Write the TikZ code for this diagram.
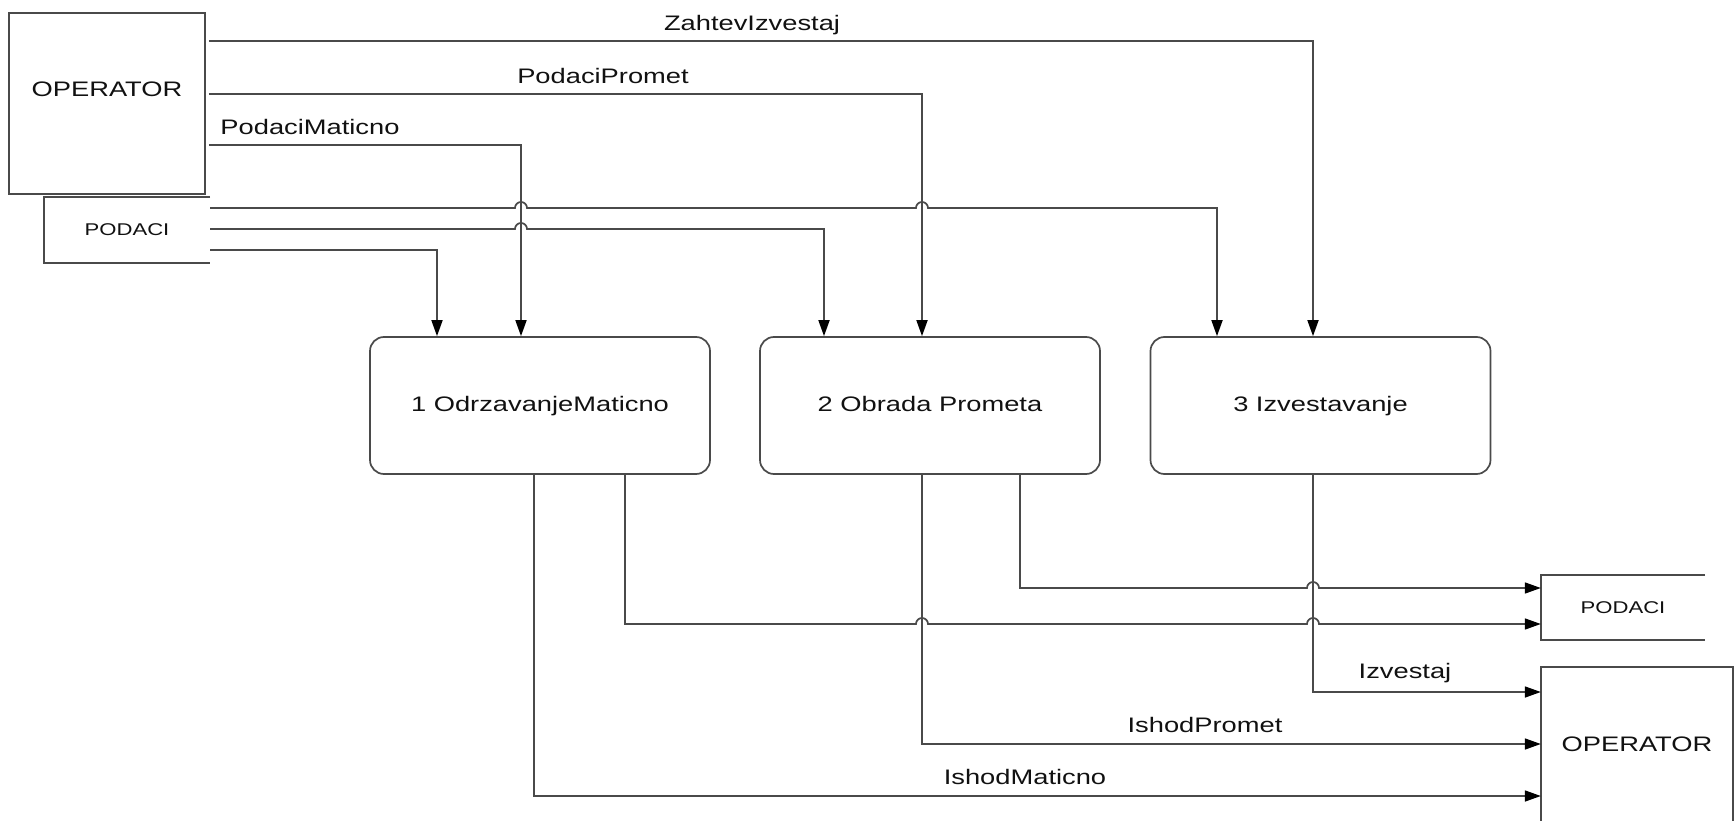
\documentclass[tikz,border=0pt]{standalone}
\usepackage{fontspec}
\setmainfont{Liberation Sans}[FakeStretch=1.3]
\usetikzlibrary{arrows.meta,calc}
\definecolor{lncol}{HTML}{4A4A4A}
\definecolor{txcol}{HTML}{111111}
\begin{document}
\begin{tikzpicture}[x=1pt,y=-1pt,
  lnst/.style={draw=lncol, line width=1.7pt},
  flow/.style={lnst, -{Triangle[length=16pt,width=11pt,color=black,fill=black]}},
  txt/.style={text=txcol, font=\fontsize{21}{25}\selectfont, inner sep=0pt},
  smalltxt/.style={text=txcol, font=\fontsize{17}{20}\selectfont, inner sep=0pt},
  proc/.style={lnst, rounded corners=14pt, minimum width=340pt, minimum height=137pt, txt,
    text height=15pt, text depth=4pt},
  openbox/.style={minimum width=164pt, minimum height=65pt, smalltxt}]
\useasboundingbox (0,0) rectangle (1735,821);

% external entities
\node[lnst, minimum width=196pt, minimum height=181pt, inner sep=0pt,
      label={[txt, yshift=14.5pt]center:OPERATOR}] (op1) at (107,103.5) {};
\node[openbox, minimum width=166pt, minimum height=66pt] (pd1) at (127,230) {PODACI};
\draw[lnst] (pd1.north east) -- (pd1.north west) -- (pd1.south west) -- (pd1.south east);

\node[openbox] (pd2) at (1623,607.5) {PODACI};
\draw[lnst] (pd2.north east) -- (pd2.north west) -- (pd2.south west) -- (pd2.south east);

\node[txt, minimum width=192pt, minimum height=154pt] (op2) at (1637,744) {OPERATOR};
\draw[lnst] (op2.south west) -- (op2.north west) -- (op2.north east) -- (op2.south east);

% processes
\node[proc] (p1) at (540,405.5) {1 OdrzavanjeMaticno};
\node[proc] (p2) at (930,405.5) {2 Obrada Prometa};
\node[proc] (p3) at (1320.5,405.5) {3 Izvestavanje};

% bend coordinates
\coordinate (zb) at (1313,41);
\coordinate (pb) at (922,94);
\coordinate (mb) at (521,145);
\coordinate (da) at (1217,208);
\coordinate (db) at (824,229);
\coordinate (dc) at (437,250);
\coordinate (im) at (534,796);
\coordinate (pm) at (625,624);
\coordinate (ip) at (922,744);
\coordinate (pp) at (1020,588);
\coordinate (iz) at (1313,692);

% inputs
\draw[flow] ([xshift=3pt]op1.east |- zb) -- (zb) -- (zb |- p3.north);
\draw[flow] ([xshift=3pt]op1.east |- pb) -- (pb) -- (pb |- p2.north);
\draw[flow] ([xshift=3pt]op1.east |- mb) -- (mb) -- (mb |- p1.north);

\draw[flow] (pd1.east |- da) -- ($(mb|-da)+(-6,0)$) arc[start angle=180,end angle=0,radius=6pt]
  -- ($(pb|-da)+(-6,0)$) arc[start angle=180,end angle=0,radius=6pt]
  -- (da) -- (da |- p3.north);
\draw[flow] (pd1.east |- db) -- ($(mb|-db)+(-6,0)$) arc[start angle=180,end angle=0,radius=6pt]
  -- (db) -- (db |- p2.north);
\draw[flow] (pd1.east |- dc) -- (dc) -- (dc |- p1.north);

% outputs
\draw[flow] (im |- p1.south) -- (im) -- (im -| op2.west);
\draw[flow] (pm |- p1.south) -- (pm) -- ($(ip|-pm)+(-6,0)$) arc[start angle=180,end angle=0,radius=6pt]
  -- ($(iz|-pm)+(-6,0)$) arc[start angle=180,end angle=0,radius=6pt]
  -- (pm -| pd2.west);
\draw[flow] (ip |- p2.south) -- (ip) -- (ip -| op2.west);
\draw[flow] (pp |- p2.south) -- (pp) -- ($(iz|-pp)+(-6,0)$) arc[start angle=180,end angle=0,radius=6pt]
  -- (pp -| pd2.west);
\draw[flow] (iz |- p3.south) -- (iz) -- (iz -| op2.west);

% labels
\node[txt] (lz) at (752,25) {ZahtevIzvestaj};
\node[txt] (lp) at (603,76) {PodaciPromet};
\node[txt] (lm) at (310,127) {PodaciMaticno};
\node[txt] (li) at (1405,673) {Izvestaj};
\node[txt] (lip) at (1205,725) {IshodPromet};
\node[txt] (lim) at (1025,777) {IshodMaticno};
\end{tikzpicture}
\end{document}
